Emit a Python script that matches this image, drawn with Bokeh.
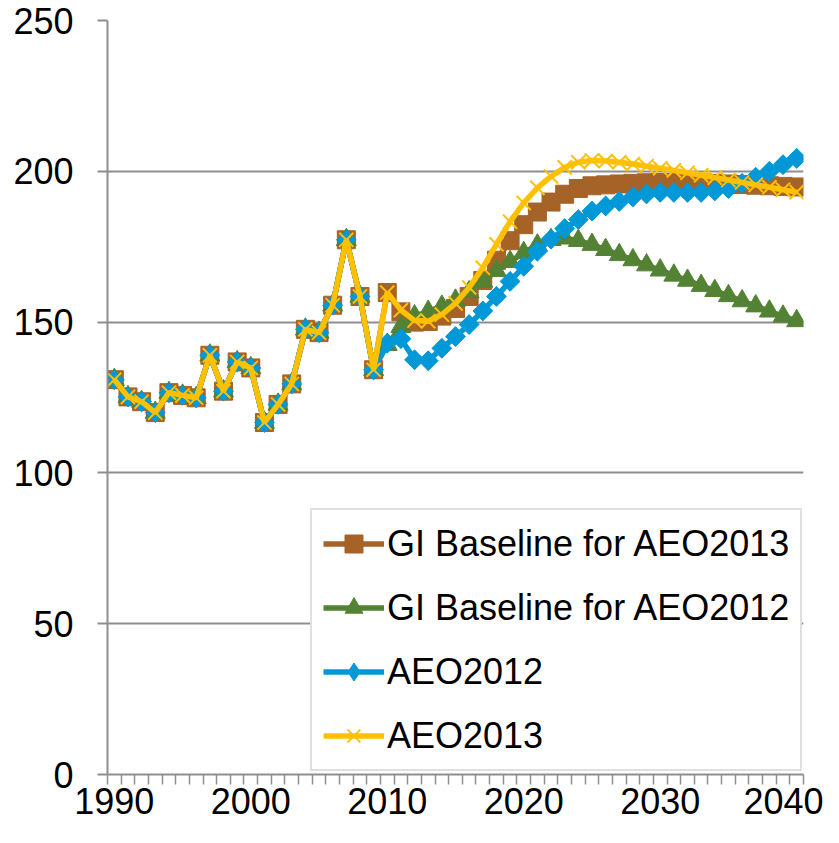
import numpy as np
from bokeh.plotting import figure
from bokeh.models import Range1d, FixedTicker, Legend, LegendItem, ColumnDataSource
from bokeh.embed import file_html
from bokeh.resources import INLINE

years = list(range(1990, 2041))

# shared history 1990-2009
history = [130.9, 125.2, 123.6, 120.0, 126.6, 125.7, 124.9, 139.0, 127.1, 136.8,
           134.8, 116.7, 122.7, 129.5, 147.6, 146.5, 155.6, 177.3, 158.5, 134.2]

# 2010-2040
gi_aeo2013_proj = [159.8, 153.4, 150.0, 150.2, 152.0, 154.5, 158.5, 163.8, 170.5, 177.0,
                   182.3, 186.5, 189.8, 192.4, 194.3, 195.2, 195.5, 195.8, 196.0, 196.2,
                   196.3, 196.3, 196.2, 196.1, 196.0, 195.8, 195.6, 195.4, 195.2, 195.0,
                   194.8]
gi_aeo2012_proj = [142.5, 148.5, 152.0, 153.5, 155.2, 157.2, 160.0, 163.5, 167.0, 170.0,
                   173.0, 175.5, 177.3, 177.8, 177.0, 175.7, 174.0, 172.3, 170.6, 168.9,
                   167.2, 165.5, 163.8, 162.1, 160.4, 158.7, 157.0, 155.3, 153.6, 151.9,
                   150.4]
aeo2012_proj = [143.0, 144.5, 137.5, 137.2, 141.3, 145.2, 149.2, 153.7, 158.5, 163.5,
                168.5, 173.5, 177.5, 181.0, 184.0, 186.8, 188.5, 190.0, 191.5, 192.5,
                193.0, 193.0, 193.0, 193.0, 193.5, 194.3, 196.0, 198.0, 200.0, 202.2,
                204.3]
aeo2013_proj = [159.8, 154.0, 150.5, 150.3, 152.5, 156.2, 161.5, 168.0, 175.8, 183.3,
                189.5, 194.5, 198.3, 201.3, 203.0, 203.6, 203.4, 203.0, 202.4, 201.7,
                201.0, 200.3, 199.5, 198.7, 197.9, 197.1, 196.3, 195.5, 194.7, 193.9,
                193.1]

series_names = ["GI Baseline for AEO2013", "GI Baseline for AEO2012", "AEO2012", "AEO2013"]
series_values = [history + gi_aeo2013_proj, history + gi_aeo2012_proj,
                 history + aeo2012_proj, history + aeo2013_proj]

x_labels = [1990, 2000, 2010, 2020, 2030, 2040]
y_ticks = [0, 50, 100, 150, 200, 250]

colors = ["#A66328", "#548235", "#0098D6", "#FFC000"]

p = figure(width=823, height=827, output_backend="svg", toolbar_location=None,
           x_range=Range1d(1989.5, 2040.5), y_range=Range1d(0, 250),
           min_border_left=107, min_border_right=20, min_border_top=20, min_border_bottom=53)

grid_col = "#8E8E8E"
p.outline_line_color = None
p.xgrid.visible = False
p.ygrid.ticker = FixedTicker(ticks=y_ticks)
p.ygrid.grid_line_color = grid_col
p.ygrid.grid_line_width = 2

p.xaxis.ticker = FixedTicker(ticks=x_labels, minor_ticks=[y - 0.5 for y in years] + [2040.5])
p.xaxis.major_tick_line_color = None
p.xaxis.minor_tick_line_color = grid_col
p.xaxis.minor_tick_line_width = 1.5
p.xaxis.minor_tick_out = 10
p.xaxis.minor_tick_in = 0
p.xaxis.major_label_standoff = 3

p.yaxis.ticker = FixedTicker(ticks=y_ticks)
p.yaxis.major_tick_line_color = grid_col
p.yaxis.major_tick_line_width = 2
p.yaxis.major_tick_out = 10
p.yaxis.major_tick_in = 0
p.yaxis.minor_tick_line_color = None
p.yaxis.major_label_standoff = 24

for ax in (p.xaxis, p.yaxis):
    ax.axis_line_color = grid_col
    ax.axis_line_width = 2
    ax.major_label_text_font = "Liberation Sans"
    ax.major_label_text_font_size = "36px"
    ax.major_label_text_color = "black"

items = []
for i, (name, vals, col) in enumerate(zip(series_names, series_values, colors)):
    src = ColumnDataSource(dict(x=years, y=vals))
    ln = p.line("x", "y", source=src, line_color=col, line_width=5.5)
    if i == 0:
        mk = p.scatter("x", "y", source=src, marker="square", size=18,
                       fill_color=col, line_color=col, line_width=1)
        leg = [ln, mk]
    elif i == 1:
        mk = p.scatter("x", "y", source=src, marker="triangle", size=20,
                       fill_color=col, line_color=col, line_width=1)
        leg = [ln, mk]
    elif i == 2:
        # diamond glyph (used for the legend key), covered by the rotated squares
        dmk = p.scatter("x", "y", source=src, marker="diamond", size=19,
                        fill_color=col, line_color=col, line_width=1)
        mk = p.scatter("x", "y", source=src, marker="square", size=14, angle=np.pi / 4,
                       fill_color=col, line_color=col, line_width=1)
        leg = [ln, dmk]
    else:
        mk = p.scatter("x", "y", source=src, marker="x", size=20,
                       line_color=col, line_width=2)
        leg = [ln, mk]
    items.append(LegendItem(label=name, renderers=leg))

lg = Legend(items=items, location=(203, 3))
lg.label_text_font = "Liberation Sans"
lg.label_text_font_size = "36px"
lg.label_text_color = "black"
lg.glyph_width = 61
lg.glyph_height = 45
lg.label_height = 45
lg.label_width = 400
lg.spacing = 19
lg.padding = 11
lg.label_standoff = 3
lg.margin = 0
lg.border_line_color = "#BFBFBF"
lg.border_line_width = 2
lg.background_fill_color = "white"
lg.background_fill_alpha = 1.0
p.add_layout(lg, "center")

open("out.html", "w").write(file_html(p, INLINE))
